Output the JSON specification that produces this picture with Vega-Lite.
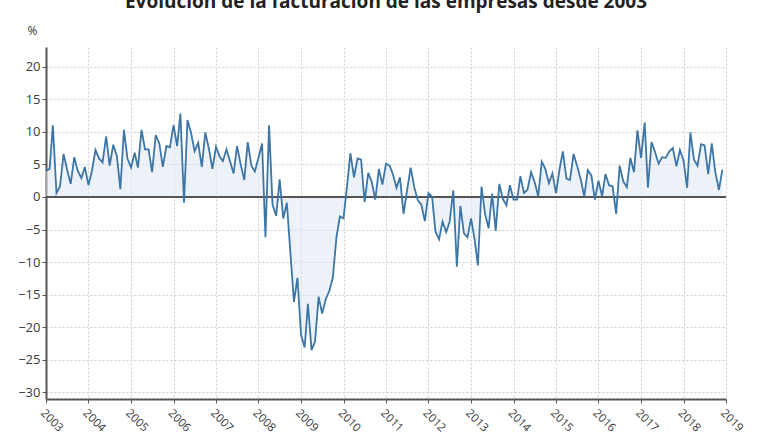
{
  "$schema": "https://vega.github.io/schema/vega-lite/v6.json",
  "width": 680,
  "height": 352,
  "autosize": {"type": "none"},
  "padding": {"left": 46, "top": 47, "right": 54, "bottom": 41},
  "background": "white",
  "title": {
    "text": "Evolución de la facturación de las empresas desde 2003",
    "anchor": "middle",
    "font": "Open Sans",
    "fontSize": 19,
    "fontWeight": "bold",
    "color": "#222222",
    "offset": 12
  },
  "config": {
    "view": {"stroke": null},
    "axis": {
      "labelFont": "Open Sans",
      "labelFontSize": 12,
      "labelColor": "#3a3a3a",
      "labelOverlap": false,
      "gridColor": "#cccccc",
      "gridDash": [2, 2],
      "gridWidth": 1,
      "domainColor": "#555555",
      "tickColor": "#555555"
    }
  },
  "data": {
    "values": [
      {"date": "2003-01-01", "v": 4.0}, {"date": "2003-02-01", "v": 4.3}, {"date": "2003-03-01", "v": 11.0}, {"date": "2003-04-01", "v": 0.6},
      {"date": "2003-05-01", "v": 1.6}, {"date": "2003-06-01", "v": 6.6}, {"date": "2003-07-01", "v": 4.2}, {"date": "2003-08-01", "v": 2.0},
      {"date": "2003-09-01", "v": 6.1}, {"date": "2003-10-01", "v": 4.0}, {"date": "2003-11-01", "v": 2.9}, {"date": "2003-12-01", "v": 4.6},
      {"date": "2004-01-01", "v": 1.8}, {"date": "2004-02-01", "v": 4.1}, {"date": "2004-03-01", "v": 7.2}, {"date": "2004-04-01", "v": 5.9},
      {"date": "2004-05-01", "v": 5.3}, {"date": "2004-06-01", "v": 9.3}, {"date": "2004-07-01", "v": 4.8}, {"date": "2004-08-01", "v": 8.0},
      {"date": "2004-09-01", "v": 6.3}, {"date": "2004-10-01", "v": 1.2}, {"date": "2004-11-01", "v": 10.3}, {"date": "2004-12-01", "v": 5.9},
      {"date": "2005-01-01", "v": 4.5}, {"date": "2005-02-01", "v": 6.8}, {"date": "2005-03-01", "v": 4.5}, {"date": "2005-04-01", "v": 10.3},
      {"date": "2005-05-01", "v": 7.3}, {"date": "2005-06-01", "v": 7.3}, {"date": "2005-07-01", "v": 3.8}, {"date": "2005-08-01", "v": 9.5},
      {"date": "2005-09-01", "v": 8.2}, {"date": "2005-10-01", "v": 4.6}, {"date": "2005-11-01", "v": 7.8}, {"date": "2005-12-01", "v": 7.6},
      {"date": "2006-01-01", "v": 11.0}, {"date": "2006-02-01", "v": 7.8}, {"date": "2006-03-01", "v": 12.8}, {"date": "2006-04-01", "v": -0.9},
      {"date": "2006-05-01", "v": 11.8}, {"date": "2006-06-01", "v": 9.8}, {"date": "2006-07-01", "v": 7.0}, {"date": "2006-08-01", "v": 8.3},
      {"date": "2006-09-01", "v": 4.6}, {"date": "2006-10-01", "v": 9.9}, {"date": "2006-11-01", "v": 7.4}, {"date": "2006-12-01", "v": 4.3},
      {"date": "2007-01-01", "v": 7.7}, {"date": "2007-02-01", "v": 6.2}, {"date": "2007-03-01", "v": 5.5}, {"date": "2007-04-01", "v": 7.3},
      {"date": "2007-05-01", "v": 5.5}, {"date": "2007-06-01", "v": 3.6}, {"date": "2007-07-01", "v": 7.8}, {"date": "2007-08-01", "v": 5.0},
      {"date": "2007-09-01", "v": 2.6}, {"date": "2007-10-01", "v": 8.4}, {"date": "2007-11-01", "v": 4.8}, {"date": "2007-12-01", "v": 3.9},
      {"date": "2008-01-01", "v": 6.0}, {"date": "2008-02-01", "v": 8.2}, {"date": "2008-03-01", "v": -6.2}, {"date": "2008-04-01", "v": 11.0},
      {"date": "2008-05-01", "v": -1.2}, {"date": "2008-06-01", "v": -2.9}, {"date": "2008-07-01", "v": 2.7}, {"date": "2008-08-01", "v": -3.3},
      {"date": "2008-09-01", "v": -0.9}, {"date": "2008-10-01", "v": -8.5}, {"date": "2008-11-01", "v": -16.1}, {"date": "2008-12-01", "v": -12.4},
      {"date": "2009-01-01", "v": -21.2}, {"date": "2009-02-01", "v": -23.1}, {"date": "2009-03-01", "v": -16.4}, {"date": "2009-04-01", "v": -23.5},
      {"date": "2009-05-01", "v": -22.2}, {"date": "2009-06-01", "v": -15.3}, {"date": "2009-07-01", "v": -17.9}, {"date": "2009-08-01", "v": -15.7},
      {"date": "2009-09-01", "v": -14.4}, {"date": "2009-10-01", "v": -12.4}, {"date": "2009-11-01", "v": -6.2}, {"date": "2009-12-01", "v": -3.0},
      {"date": "2010-01-01", "v": -3.3}, {"date": "2010-02-01", "v": 1.8}, {"date": "2010-03-01", "v": 6.7}, {"date": "2010-04-01", "v": 3.0},
      {"date": "2010-05-01", "v": 5.9}, {"date": "2010-06-01", "v": 5.7}, {"date": "2010-07-01", "v": -0.8}, {"date": "2010-08-01", "v": 3.7},
      {"date": "2010-09-01", "v": 2.3}, {"date": "2010-10-01", "v": -0.4}, {"date": "2010-11-01", "v": 4.3}, {"date": "2010-12-01", "v": 1.9},
      {"date": "2011-01-01", "v": 5.1}, {"date": "2011-02-01", "v": 4.8}, {"date": "2011-03-01", "v": 3.5}, {"date": "2011-04-01", "v": 1.4},
      {"date": "2011-05-01", "v": 3.0}, {"date": "2011-06-01", "v": -2.6}, {"date": "2011-07-01", "v": 1.0}, {"date": "2011-08-01", "v": 4.5},
      {"date": "2011-09-01", "v": 1.5}, {"date": "2011-10-01", "v": -0.5}, {"date": "2011-11-01", "v": -1.2}, {"date": "2011-12-01", "v": -3.7},
      {"date": "2012-01-01", "v": 0.6}, {"date": "2012-02-01", "v": 0.0}, {"date": "2012-03-01", "v": -5.3}, {"date": "2012-04-01", "v": -6.5},
      {"date": "2012-05-01", "v": -3.8}, {"date": "2012-06-01", "v": -5.4}, {"date": "2012-07-01", "v": -3.8}, {"date": "2012-08-01", "v": 1.0},
      {"date": "2012-09-01", "v": -10.7}, {"date": "2012-10-01", "v": -1.4}, {"date": "2012-11-01", "v": -5.6}, {"date": "2012-12-01", "v": -6.2},
      {"date": "2013-01-01", "v": -3.3}, {"date": "2013-02-01", "v": -6.6}, {"date": "2013-03-01", "v": -10.5}, {"date": "2013-04-01", "v": 1.6},
      {"date": "2013-05-01", "v": -2.6}, {"date": "2013-06-01", "v": -4.8}, {"date": "2013-07-01", "v": 0.5}, {"date": "2013-08-01", "v": -5.2},
      {"date": "2013-09-01", "v": 2.0}, {"date": "2013-10-01", "v": -0.3}, {"date": "2013-11-01", "v": -1.3}, {"date": "2013-12-01", "v": 1.8},
      {"date": "2014-01-01", "v": -0.4}, {"date": "2014-02-01", "v": -0.4}, {"date": "2014-03-01", "v": 3.2}, {"date": "2014-04-01", "v": 0.6},
      {"date": "2014-05-01", "v": 1.1}, {"date": "2014-06-01", "v": 3.8}, {"date": "2014-07-01", "v": 2.3}, {"date": "2014-08-01", "v": 0.1},
      {"date": "2014-09-01", "v": 5.4}, {"date": "2014-10-01", "v": 4.3}, {"date": "2014-11-01", "v": 2.1}, {"date": "2014-12-01", "v": 3.6},
      {"date": "2015-01-01", "v": 0.6}, {"date": "2015-02-01", "v": 4.3}, {"date": "2015-03-01", "v": 7.0}, {"date": "2015-04-01", "v": 2.8},
      {"date": "2015-05-01", "v": 2.6}, {"date": "2015-06-01", "v": 6.6}, {"date": "2015-07-01", "v": 4.8}, {"date": "2015-08-01", "v": 2.7},
      {"date": "2015-09-01", "v": 0.1}, {"date": "2015-10-01", "v": 4.1}, {"date": "2015-11-01", "v": 3.3}, {"date": "2015-12-01", "v": -0.4},
      {"date": "2016-01-01", "v": 2.5}, {"date": "2016-02-01", "v": 0.1}, {"date": "2016-03-01", "v": 3.5}, {"date": "2016-04-01", "v": 1.8},
      {"date": "2016-05-01", "v": 1.6}, {"date": "2016-06-01", "v": -2.6}, {"date": "2016-07-01", "v": 4.8}, {"date": "2016-08-01", "v": 2.4},
      {"date": "2016-09-01", "v": 1.5}, {"date": "2016-10-01", "v": 6.0}, {"date": "2016-11-01", "v": 3.8}, {"date": "2016-12-01", "v": 10.2},
      {"date": "2017-01-01", "v": 6.0}, {"date": "2017-02-01", "v": 11.4}, {"date": "2017-03-01", "v": 1.4}, {"date": "2017-04-01", "v": 8.4},
      {"date": "2017-05-01", "v": 6.9}, {"date": "2017-06-01", "v": 5.1}, {"date": "2017-07-01", "v": 6.1}, {"date": "2017-08-01", "v": 6.0},
      {"date": "2017-09-01", "v": 7.0}, {"date": "2017-10-01", "v": 7.5}, {"date": "2017-11-01", "v": 4.7}, {"date": "2017-12-01", "v": 7.2},
      {"date": "2018-01-01", "v": 5.6}, {"date": "2018-02-01", "v": 1.4}, {"date": "2018-03-01", "v": 9.9}, {"date": "2018-04-01", "v": 5.7},
      {"date": "2018-05-01", "v": 4.8}, {"date": "2018-06-01", "v": 8.1}, {"date": "2018-07-01", "v": 7.9}, {"date": "2018-08-01", "v": 3.5},
      {"date": "2018-09-01", "v": 8.2}, {"date": "2018-10-01", "v": 3.8}, {"date": "2018-11-01", "v": 1.1}, {"date": "2018-12-01", "v": 4.2}
    ]
  },
  "encoding": {
    "x": {
      "field": "date",
      "type": "temporal",
      "scale": {
        "type": "utc",
        "domain": [
          {"year": 2003, "month": 1, "date": 1, "utc": true},
          {"year": 2019, "month": 1, "date": 1, "utc": true}
        ],
        "nice": false
      },
      "axis": {
        "title": null,
        "format": "%Y",
        "formatType": "utc",
        "tickCount": {"interval": "year", "step": 1},
        "labelAngle": 45,
        "labelAlign": "left",
        "labelBaseline": "top",
        "labelFontSize": 11.5,
        "labelPadding": 4,
        "labelOverlap": false,
        "labelFlush": false,
        "domainWidth": 2,
        "tickSize": 4,
        "tickWidth": 1
      }
    },
    "y": {
      "field": "v",
      "type": "quantitative",
      "scale": {"domain": [-31, 23], "nice": false, "zero": false},
      "axis": {
        "title": "%",
        "titleAngle": 0,
        "titleX": -14,
        "titleY": -17,
        "titleAlign": "center",
        "titleBaseline": "middle",
        "titleFont": "Open Sans",
        "titleFontSize": 12,
        "titleFontWeight": "normal",
        "titleColor": "#3a3a3a",
        "values": [-30, -25, -20, -15, -10, -5, 0, 5, 10, 15, 20],
        "labelFontSize": 13,
        "labelOverlap": false,
        "labelFlush": false,
        "labelPadding": 2,
        "tickSize": 4,
        "domainWidth": 2
      }
    }
  },
  "layer": [
    {
      "mark": {"type": "area", "color": "#dce7f2", "opacity": 0.55},
      "encoding": {"y2": {"datum": 0}}
    },
    {
      "mark": {"type": "rule", "color": "#555555", "strokeWidth": 2},
      "encoding": {
        "x": {"datum": {"year": 2003, "month": 1, "date": 1, "utc": true}, "type": "temporal"},
        "x2": {"datum": {"year": 2019, "month": 1, "date": 1, "utc": true}},
        "y": {"datum": 0, "type": "quantitative"}
      }
    },
    {
      "mark": {"type": "line", "color": "#3d76a6", "strokeWidth": 1.8}
    }
  ]
}
